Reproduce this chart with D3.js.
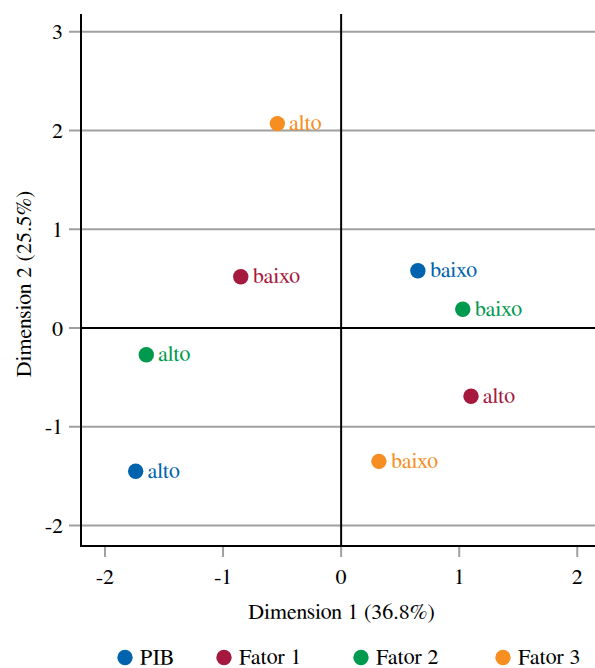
<!DOCTYPE html>
<html><head><meta charset="utf-8">
<script src="https://cdn.jsdelivr.net/npm/d3@7"></script>
<style>body{margin:0;background:#fff}svg{display:block}</style>
</head><body><svg id="c" width="595" height="668"></svg>
<script>
const groups = ["PIB","Fator 1","Fator 2","Fator 3"];
const colors = ["#0063ad","#a4193d","#009a4e","#f68e21"];
const labels = ["baixo","alto","baixo","alto","baixo","alto","baixo","alto"];
const pointGroup = ["PIB","PIB","Fator 1","Fator 1","Fator 2","Fator 2","Fator 3","Fator 3"];
const dim1 = [0.65,-1.74,-0.85,1.10,1.03,-1.65,0.32,-0.54];
const dim2 = [0.58,-1.45,0.52,-0.69,0.19,-0.27,-1.35,2.07];
const xTicks = [-2,-1,0,1,2];
const yTicks = [-2,-1,0,1,2,3];

const FONT = "FreeSerif, 'Liberation Serif', serif";
const svg = d3.select("#c");
const L=81, R=595, T=14, B=546;
const FS = 22;
const x = d3.scaleLinear().domain([-2.203,2.15]).range([L,R]);
const y = d3.scaleLinear().domain([-2.207,3.18]).range([B,T]);
const col = d3.scaleOrdinal().domain(groups).range(colors);

// horizontal grid + ticks
svg.append("g").selectAll("line").data(yTicks).join("line")
  .attr("x1",L-12).attr("x2",R).attr("y1",d=>y(d)).attr("y2",d=>y(d))
  .attr("stroke","#a0a0a0").attr("stroke-width",2);
svg.append("g").selectAll("text").data(yTicks).join("text")
  .attr("x",L-18).attr("y",d=>y(d)).attr("dy","0.34em").attr("text-anchor","end")
  .attr("font-family",FONT).attr("font-size",FS).text(d=>d);
// x ticks
svg.append("g").selectAll("line").data(xTicks).join("line")
  .attr("x1",d=>x(d)).attr("x2",d=>x(d)).attr("y1",B).attr("y2",B+11)
  .attr("stroke","#a0a0a0").attr("stroke-width",2);
svg.append("g").selectAll("text").data(xTicks).join("text")
  .attr("x",d=>x(d)).attr("y",B+38).attr("text-anchor","middle")
  .attr("font-family",FONT).attr("font-size",FS).text(d=>d);
// zero lines
svg.append("line").attr("x1",x(0)).attr("x2",x(0)).attr("y1",T).attr("y2",B).attr("stroke","#000").attr("stroke-width",2);
svg.append("line").attr("x1",L).attr("x2",R).attr("y1",y(0)).attr("y2",y(0)).attr("stroke","#000").attr("stroke-width",2);
// axes
svg.append("line").attr("x1",L).attr("x2",L).attr("y1",T).attr("y2",B+1).attr("stroke","#000").attr("stroke-width",2);
svg.append("line").attr("x1",L).attr("x2",R).attr("y1",B).attr("y2",B).attr("stroke","#000").attr("stroke-width",2);

// points
const pts = dim1.map((d,i)=>({x:d,y:dim2[i],g:pointGroup[i],l:labels[i]}));
const pg = svg.append("g");
pg.selectAll("circle").data(pts).join("circle")
  .attr("cx",d=>x(d.x)).attr("cy",d=>y(d.y)).attr("r",7.7).attr("fill",d=>col(d.g));
pg.selectAll("text").data(pts).join("text")
  .attr("x",d=>x(d.x)+12).attr("y",d=>y(d.y)).attr("dy","0.3em")
  .attr("font-family",FONT).attr("font-size",FS).attr("fill",d=>col(d.g)).text(d=>d.l);

// axis titles
svg.append("text").attr("x",341.5).attr("y",619).attr("text-anchor","middle")
  .attr("font-family",FONT).attr("font-size",FS).text("Dimension 1 (36.8%)");
svg.append("text").attr("transform","translate(31,284) rotate(-90)").attr("text-anchor","middle")
  .attr("font-family",FONT).attr("font-size",FS).text("Dimension 2 (25.5%)");

// legend
const legX = [125,224,361,503];
const lg = svg.append("g").selectAll("g").data(groups).join("g")
  .attr("transform",(d,i)=>`translate(${legX[i]},657.5)`);
lg.append("circle").attr("r",7.7).attr("fill",d=>col(d));
lg.append("text").attr("x",15).attr("dy","0.3em")
  .attr("font-family",FONT).attr("font-size",FS).text(d=>d);
</script></body></html>
